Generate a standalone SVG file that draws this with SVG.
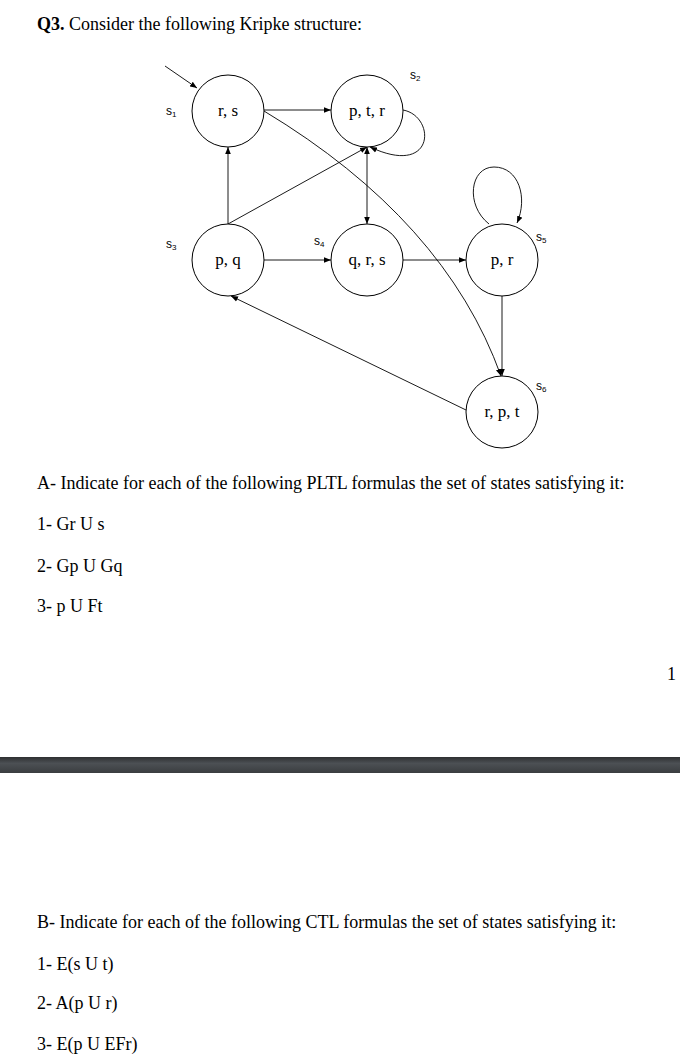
<svg xmlns="http://www.w3.org/2000/svg" width="680" height="1064" viewBox="0 0 680 1064">
<style>
.t{font-family:"Liberation Serif",serif;font-size:18px;fill:#000}
.n{font-family:"Liberation Serif",serif;font-size:17px;fill:#000;text-anchor:middle}
.s{font-family:"Liberation Sans",sans-serif;font-size:12px;fill:#000}
.c{fill:#fff;stroke:#000;stroke-width:1}
.e{fill:none;stroke:#000;stroke-width:0.9}
</style>
<defs>
<marker id="a" viewBox="0 0 10 10" refX="10" refY="5" markerWidth="7" markerHeight="7" orient="auto-start-reverse" markerUnits="userSpaceOnUse"><path d="M0,1 L10,5 L0,9 z" fill="#000"/></marker>
<linearGradient id="g" x1="0" y1="0" x2="0" y2="1"><stop offset="0" stop-color="#2e3032"/><stop offset="0.4" stop-color="#4c5054"/><stop offset="1" stop-color="#3a3d40"/></linearGradient>
</defs>
<rect width="680" height="1064" fill="#fff"/>
<text class="t" x="37" y="30"><tspan font-weight="bold">Q3.</tspan> Consider the following Kripke structure:</text>
<g id="edges">
<path class="e" d="M165,66 L197,88" marker-end="url(#a)"/>
<path class="e" d="M264,110 L331,110" marker-end="url(#a)"/>
<path class="e" d="M264,111 Q445,220 501,376" marker-end="url(#a)"/>
<path class="e" d="M403,110 C436,116 436,178 370,147" marker-end="url(#a)"/>
<path class="e" d="M228,224 L367,147" marker-end="url(#a)"/>
<path class="e" d="M228,224 L228,147" marker-end="url(#a)"/>
<path class="e" d="M367,147 L367,224" marker-start="url(#a)" marker-end="url(#a)"/>
<path class="e" d="M264,260 L331,260" marker-end="url(#a)"/>
<path class="e" d="M403,260 L466,260" marker-end="url(#a)"/>
<path class="e" d="M489,224 C465,205 470,167 494,167 C519,167 528,198 517,223" marker-end="url(#a)"/>
<path class="e" d="M502,296 L502,376" marker-end="url(#a)"/>
<path class="e" d="M466,410 L231,296" marker-end="url(#a)"/>
</g>
<g id="s1"><circle class="c" cx="228" cy="111" r="36"/><text class="n" x="228" y="116">r, s</text><text class="s" x="166" y="115">s<tspan font-size="8" dy="2">1</tspan></text></g>
<g id="s2"><circle class="c" cx="367" cy="111" r="36"/><text class="n" x="367" y="116">p, t, r</text><text class="s" x="410" y="79">s<tspan font-size="8" dy="2">2</tspan></text></g>
<g id="s3"><circle class="c" cx="228" cy="260" r="36"/><text class="n" x="228" y="265">p, q</text><text class="s" x="166" y="248">s<tspan font-size="8" dy="2">3</tspan></text></g>
<g id="s4"><circle class="c" cx="367" cy="260" r="36"/><text class="n" x="367" y="265">q, r, s</text><text class="s" x="314" y="245">s<tspan font-size="8" dy="2">4</tspan></text></g>
<g id="s5"><circle class="c" cx="502" cy="260" r="36"/><text class="n" x="502" y="265">p, r</text><text class="s" x="536" y="241">s<tspan font-size="8" dy="2">5</tspan></text></g>
<g id="s6"><circle class="c" cx="502" cy="412" r="36"/><text class="n" x="502" y="417">r, p, t</text><text class="s" x="536" y="390">s<tspan font-size="8" dy="2">6</tspan></text></g>
<text class="t" x="37" y="489">A- Indicate for each of the following PLTL formulas the set of states satisfying it:</text>
<text class="t" x="37" y="530">1- Gr U s</text>
<text class="t" x="37" y="572">2- Gp U Gq</text>
<text class="t" x="37" y="612">3- p U Ft</text>
<text class="t" x="667" y="680">1</text>
<rect x="0" y="757" width="680" height="16" fill="url(#g)"/>
<text class="t" x="37" y="928">B- Indicate for each of the following CTL formulas the set of states satisfying it:</text>
<text class="t" x="37" y="970">1- E(s U t)</text>
<text class="t" x="37" y="1009">2- A(p U r)</text>
<text class="t" x="37" y="1050">3- E(p U EFr)</text>
</svg>
